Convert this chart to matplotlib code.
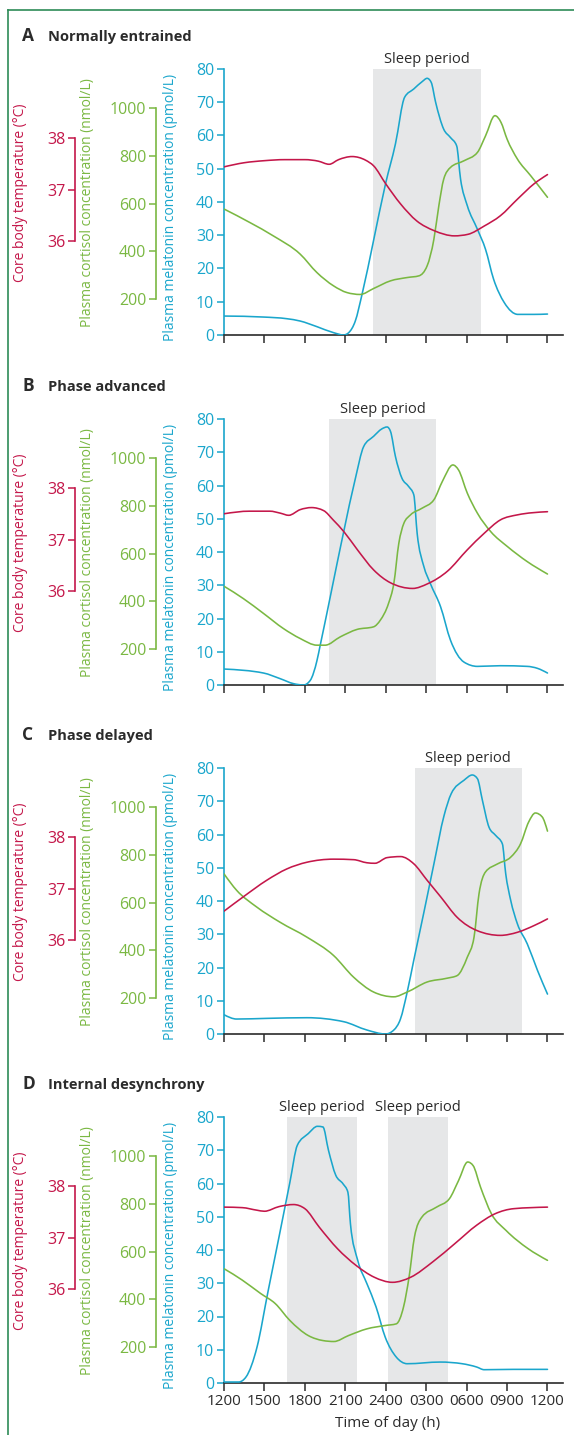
import numpy as np
import matplotlib
matplotlib.use('Agg')
import matplotlib.pyplot as plt
from matplotlib.lines import Line2D
from matplotlib.path import Path
from matplotlib.patches import PathPatch
from matplotlib.transforms import blended_transform_factory

plt.rcParams['font.family'] = ['Open Sans', 'DejaVu Sans']

RED = '#c4174a'
GREEN = '#7ab842'
BLUE = '#1aa6cc'
SHADE = '#e6e7e8'
DARK = '#2b2b2b'
FRAME = '#2e8b57'

hour_ticks = [0, 3, 6, 9, 12, 15, 18, 21, 24]
hour_labels = ['1200', '1500', '1800', '2100', '2400', '0300', '0600', '0900', '1200']

# ---- A: normally entrained ----
mel_h_a = [0, 2.93, 4.66, 5.65, 6.9, 8.13, 8.88, 9.25, 9.74, 10.24, 11.1, 11.98, 12.72, 13.4,
           14.08, 14.7, 15.07, 15.37, 15.7, 16.3, 16.8, 17.26, 17.55, 18.05, 18.8, 19.4, 20.0,
           20.8, 21.8, 23.0, 24]
mel_a = [5.7, 5.4, 4.9, 4.2, 2.5, 0.7, 0, 0.7, 4.2, 12.2, 28.5, 45.4, 57.5, 71.5,
         74, 76.2, 77.2, 76, 70, 61.9, 59.4, 56.9, 46.9, 38.9, 31.8, 25.8, 16.8,
         9.7, 6.2, 6.2, 6.3]
cort_h_a = [0, 1.93, 3.67, 5.65, 6.89, 8.13, 9.12, 10.1, 11.1, 12.35, 13.6, 14.46, 15.07, 15.57,
            15.94, 16.3, 16.8, 17.8, 18.8, 19.4, 20.1, 20.55, 21.0, 21.77, 22.76, 24]
cort_a = [577, 520, 464, 388, 311, 255, 227, 219, 244, 276, 290, 297, 339, 450,
          591, 702, 751, 779, 814, 883, 968, 940, 870, 786, 716, 626]
temp_h_a = [0, 1.5, 3, 4.5, 6, 7, 7.8, 8.5, 9.5, 10.5, 11.1, 12, 13.1, 14.3, 15.6, 17.1, 18.1,
            19.3, 20.5, 21.8, 23, 24]
temp_a = [37.44, 37.52, 37.56, 37.58, 37.58, 37.55, 37.49, 37.58, 37.64, 37.57, 37.46, 37.11,
          36.72, 36.39, 36.20, 36.10, 36.13, 36.29, 36.49, 36.82, 37.11, 37.29]
sleep_a = [(11.06, 19.04)]

# ---- B: phase advanced ----
mel_h_b = [0, 2.93, 4.17, 5.16, 5.9, 6.4, 6.9, 7.14, 7.64, 8.38, 8.88, 9.74, 10.36, 11.1, 11.7,
           12.1, 12.35, 12.72, 13.2, 13.7, 14.08, 14.33, 14.83, 15.3, 16.07, 16.8, 17.8, 18.8,
           20.5, 22.5, 23.26, 24]
mel_b = [4.8, 3.6, 1.9, 0.4, 0, 1.4, 7.4, 12, 21.7, 36.4, 46.1, 62, 71.7, 74.8, 77,
         77.6, 76.3, 68.7, 62.2, 59.7, 57.2, 45.6, 35.6, 30.6, 23.5, 13.5, 6.9, 5.6,
         5.8, 5.6, 5.0, 3.6]
cort_h_b = [0, 1.44, 2.93, 4.4, 5.65, 6.9, 7.5, 8.63, 9.87, 11.1, 11.6, 12.2, 12.6, 12.97, 13.34,
            13.84, 14.7, 15.57, 16.2, 16.98, 17.4, 18.05, 18.8, 19.8, 21.03, 22.5, 24]
cort_b = [463, 411, 349, 286, 244, 216, 216, 251, 282, 293, 321, 390, 475, 643, 726,
          762, 790, 825, 902, 971, 950, 853, 769, 691, 629, 566, 514]
temp_h_b = [0, 1.9, 3.4, 4.2, 4.8, 5.65, 6.5, 7.4, 8.1, 8.9, 9.9, 11.1, 12.35, 14, 15.1, 16.6,
            18.05, 19.3, 20.5, 21.8, 24]
temp_b = [37.50, 37.55, 37.55, 37.51, 37.47, 37.58, 37.62, 37.56, 37.38, 37.15, 36.80, 36.41,
          36.16, 36.05, 36.14, 36.39, 36.80, 37.12, 37.38, 37.48, 37.54]
sleep_b = [(7.8, 15.75)]

# ---- C: phase delayed ----
mel_h_c = [0, 0.94, 3.17, 6.15, 8.88, 10.6, 11.98, 12.6, 13.09, 13.59, 14.08, 14.83, 15.57,
           16.32, 16.86, 17.8, 18.42, 18.8, 19.17, 19.66, 20.16, 20.65, 20.9, 21.27, 21.77,
           22.5, 23.26, 24]
mel_c = [5.8, 4.5, 4.7, 4.9, 3.7, 1.2, 0, 1.2, 4.5, 12.6, 22.2, 36.6, 51.1,
         65.6, 72.3, 76.3, 77.9, 76.8, 70.3, 62.2, 59.7, 57.2, 48.2, 40.2, 33.1,
         27.1, 19.1, 12]
cort_h_c = [0, 0.94, 2.43, 4.17, 6.15, 8.13, 9.62, 11.1, 12.6, 13.59, 15.07, 16.56, 17.3, 18.05,
            18.55, 18.92, 19.4, 20.3, 21.27, 22.0, 22.6, 23.1, 23.6, 24]
cort_c = [720, 651, 581, 517, 455, 378, 287, 225, 205, 225, 267, 283, 294, 371,
          455, 637, 728, 762, 790, 846, 937, 975, 959, 899]
temp_h_c = [0, 1.44, 3.17, 4.66, 6.15, 8.13, 9.62, 10.6, 11.2, 12.1, 13.1, 14.08, 15.07, 16.07,
            17.3, 18.8, 20.5, 21.77, 23, 24]
temp_c = [36.56, 36.84, 37.16, 37.38, 37.51, 37.57, 37.56, 37.50, 37.49, 37.60, 37.62, 37.48,
          37.16, 36.84, 36.44, 36.18, 36.09, 36.15, 36.28, 36.41]
sleep_c = [(14.15, 22.1)]

# ---- D: internal desynchrony ----
mel_h_d = [0, 1.09, 1.63, 2.45, 3.26, 4.08, 4.89, 5.44, 6.25, 6.93, 7.34, 7.75, 8.29, 8.83,
           9.19, 9.38, 9.92, 10.6, 11.28, 11.96, 12.78, 13.59, 16.04, 17.67, 18.75, 19.3,
           21.45, 24]
mel_d = [0.3, 0.3, 1.8, 10.8, 27.4, 43.9, 60.4, 71.5, 75, 77.2, 77, 70, 62.5, 59.9,
         57.4, 47.9, 36.9, 29.9, 22.9, 13.8, 7.8, 5.8, 6.3, 5.8, 4.8, 4.0,
         4.1, 4.1]
cort_h_d = [0, 1.36, 2.72, 3.8, 4.89, 6.25, 7.34, 8.15, 9.24, 10.6, 11.96, 12.78, 13.32, 13.73,
            14.13, 14.68, 15.77, 16.72, 17.4, 18.08, 18.48, 19.03, 19.84, 20.93, 22.56, 24]
cort_d = [528, 480, 424, 382, 311, 248, 227, 223, 248, 276, 290, 297, 368, 493,
          661, 744, 786, 821, 897, 975, 960, 870, 758, 688, 612, 563]
temp_h_d = [0, 1.36, 2.45, 3, 4.08, 5.16, 6, 7.07, 8.43, 9.79, 11.14, 12.5, 13.86, 15.5, 17.12,
            18.75, 20.1, 21.5, 24]
temp_d = [37.59, 37.58, 37.53, 37.51, 37.60, 37.64, 37.56, 37.20, 36.78, 36.46, 36.23, 36.13,
          36.23, 36.53, 36.88, 37.24, 37.46, 37.56, 37.59]
sleep_d = [(4.67, 9.85), (12.15, 16.6)]


W, H = 574, 1435


def smooth_line(ax, x, y, color, lw=1.15, zorder=3):
    # monotone cubic bezier path through the read points (like d3 curveMonotoneX)
    x = np.asarray(x, float)
    y = np.asarray(y, float)
    h = np.diff(x)
    s = np.diff(y) / h
    m = np.zeros_like(y)
    for i in range(1, len(y) - 1):
        p = (s[i - 1] * h[i] + s[i] * h[i - 1]) / (h[i - 1] + h[i])
        m[i] = (np.sign(s[i - 1]) + np.sign(s[i])) * min(abs(s[i - 1]), abs(s[i]), 0.5 * abs(p))
    m[0] = (3 * s[0] - m[1]) / 2
    m[-1] = (3 * s[-1] - m[-2]) / 2
    verts = [(x[0], y[0])]
    codes = [Path.MOVETO]
    for i in range(len(h)):
        d = h[i] / 3
        verts += [(x[i] + d, y[i] + m[i] * d), (x[i + 1] - d, y[i + 1] - m[i + 1] * d),
                  (x[i + 1], y[i + 1])]
        codes += [Path.CURVE4] * 3
    ax.add_patch(PathPatch(Path(verts, codes), fill=False, edgecolor=color, lw=lw,
                           zorder=zorder, capstyle='round', joinstyle='round'))


def draw_panel(fig, top_px, letter, title, mel_h, mel, cort_h, cort, temp_h, temp, sleeps,
               last=False):
    left_px, right_px = 224, 563
    bottom_px = top_px + 266
    ax = fig.add_axes([left_px / W, 1 - bottom_px / H, (right_px - left_px) / W, 266 / H])
    ax.set_xlim(0, 25.15)
    ax.set_ylim(0, 80)

    # sleep shading + labels
    tr = blended_transform_factory(ax.transData, ax.transAxes)
    for s0, s1 in sleeps:
        ax.axvspan(s0, s1, color=SHADE, lw=0, zorder=0)
        ax.text((s0 + s1) / 2, 1.022, 'Sleep period', transform=tr, ha='center',
                va='baseline', fontsize=10.5, color=DARK)

    smooth_line(ax, mel_h, mel, BLUE)

    # cortisol axis
    ax2 = ax.twinx()
    ax2.set_ylim(49.2, 1163.5)
    smooth_line(ax2, cort_h, cort, GREEN)
    # temperature axis
    ax3 = ax.twinx()
    ax3.set_ylim(34.175, 39.34)
    smooth_line(ax3, temp_h, temp, RED)

    for a in (ax, ax2, ax3):
        for s in ('top', 'right'):
            a.spines[s].set_visible(False)
    for a in (ax2, ax3):
        a.spines['bottom'].set_visible(False)
        a.yaxis.set_ticks_position('left')
        a.yaxis.set_label_position('left')
        a.spines['left'].set_visible(True)

    ax2.spines['left'].set_position(('axes', (156 - left_px) / (right_px - left_px)))
    ax2.spines['left'].set_bounds(200, 1000)
    ax2.spines['left'].set_color(GREEN)
    ax2.spines['left'].set_linewidth(1.2)
    ax2.set_yticks([200, 400, 600, 800, 1000])
    ax2.tick_params(axis='y', colors=GREEN, labelsize=11.5, length=5, width=1.1, pad=2)
    ax2.set_ylabel('Plasma cortisol concentration (nmol/L)', color=GREEN, fontsize=10)
    ax2.yaxis.set_label_coords((95 - left_px) / (right_px - left_px), 0.498)

    ax3.spines['left'].set_position(('axes', (75 - left_px) / (right_px - left_px)))
    ax3.spines['left'].set_bounds(36, 38)
    ax3.spines['left'].set_color(RED)
    ax3.spines['left'].set_linewidth(1.2)
    ax3.set_yticks([36, 37, 38])
    ax3.tick_params(axis='y', colors=RED, labelsize=11.5, length=5, width=1.1, pad=2)
    ax3.set_ylabel('Core body temperature (°C)', color=RED, fontsize=10)
    ax3.yaxis.set_label_coords((28 - left_px) / (right_px - left_px), 0.534)
    ax2.set_xticks([])
    ax3.set_xticks([])

    ax.spines['left'].set_color(BLUE)
    ax.spines['left'].set_linewidth(1.2)
    ax.spines['bottom'].set_color(DARK)
    ax.spines['bottom'].set_linewidth(1.2)
    ax.set_yticks(range(0, 81, 10))
    ax.tick_params(axis='y', colors=BLUE, labelsize=11.5, length=5, width=1.1, pad=2)
    ax.set_ylabel('Plasma melatonin concentration (pmol/L)', color=BLUE, fontsize=10)
    ax.yaxis.set_label_coords((178 - left_px) / (right_px - left_px), 0.479)
    ax.set_xticks(hour_ticks)
    ax.tick_params(axis='x', colors=DARK, length=6, width=1.1, pad=2, labelsize=11)
    if last:
        ax.set_xticklabels(hour_labels)
        ax.set_xlabel('Time of day (h)', fontsize=11, color=DARK, labelpad=1)
        ax.xaxis.set_label_coords((388 - left_px) / (right_px - left_px), -0.125)
    else:
        ax.set_xticklabels([])

    ybase = 1 - (top_px - 28) / H
    fig.text(22 / W, ybase, letter, fontsize=12.5, fontweight='bold', color=DARK, va='baseline')
    fig.text(48 / W, ybase, title, fontsize=10.5, fontweight='bold', color=DARK, va='baseline')


fig = plt.figure(figsize=(W / 100, H / 100), dpi=100)

draw_panel(fig, 69, 'A', 'Normally entrained', mel_h_a, mel_a, cort_h_a, cort_a,
           temp_h_a, temp_a, sleep_a)
draw_panel(fig, 419, 'B', 'Phase advanced', mel_h_b, mel_b, cort_h_b, cort_b,
           temp_h_b, temp_b, sleep_b)
draw_panel(fig, 768, 'C', 'Phase delayed', mel_h_c, mel_c, cort_h_c, cort_c,
           temp_h_c, temp_c, sleep_c)
draw_panel(fig, 1117, 'D', 'Internal desynchrony', mel_h_d, mel_d, cort_h_d, cort_d,
           temp_h_d, temp_d, sleep_d, last=True)

# green frame on top and left
fig.add_artist(Line2D([8 / W, 8 / W], [0, 1 - 10 / H], color=FRAME, lw=1.2,
                      transform=fig.transFigure))
fig.add_artist(Line2D([8 / W, 1], [1 - 10 / H, 1 - 10 / H], color=FRAME, lw=1.2,
                      transform=fig.transFigure))

fig.savefig('out.png', dpi=100)
